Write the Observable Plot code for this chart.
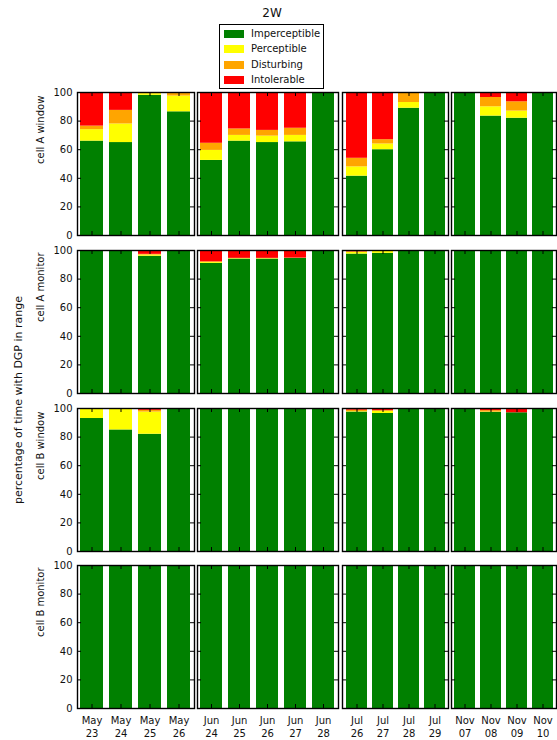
<!DOCTYPE html>
<html>
<head>
<meta charset="utf-8">
<script src="https://cdn.jsdelivr.net/npm/d3@7"></script>
<script src="https://cdn.jsdelivr.net/npm/@observablehq/plot@0.6"></script>
<style>
  body { margin: 0; background: #fff; font-family: "DejaVu Sans", sans-serif; color: #111; }
  #fig { position: relative; width: 557px; height: 740px; overflow: hidden; background: #fff; }
  .abs { position: absolute; }
  #title { left: 222px; width: 100px; top: 6px; text-align: center; font-size: 12px; }
  #legend { left: 219px; top: 24px; width: 103px; height: 63px; border: 1.3px solid #000; background: #fff; }
  .sw { position: absolute; left: 4px; width: 20px; height: 8px; }
  .lt { position: absolute; left: 31px; font-size: 10px; line-height: 12px; white-space: nowrap; }
  #ylab { left: 18px; top: 400px; transform: translate(-50%, -50%) rotate(-90deg); font-size: 11px; white-space: nowrap; }
</style>
</head>
<body>
<div id="fig"></div>
<script>
// ---------- data ----------
const categories = ["Imperceptible", "Perceptible", "Disturbing", "Intolerable"];
const colors = ["#008000", "#ffff00", "#ffa500", "#ff0000"];
const title = "2W";
const yLabel = "percentage of time with DGP in range";
const rowLabels = ["cell A window", "cell A monitor", "cell B window", "cell B monitor"];
const mayDays = ["May 23", "May 24", "May 25", "May 26"];
const junDays = ["Jun 24", "Jun 25", "Jun 26", "Jun 27", "Jun 28"];
const julDays = ["Jul 26", "Jul 27", "Jul 28", "Jul 29"];
const novDays = ["Nov 07", "Nov 08", "Nov 09", "Nov 10"];
const yTicks = [0, 20, 40, 60, 80, 100];

// values per day: [Imperceptible, Perceptible, Disturbing, Intolerable]
const cellAWindow = [
  [66, 8, 2.5, 23.5], [65, 13, 9.5, 12.5], [98, 1.2, 0.8, 0], [86.5, 11, 2.5, 0],
  [52.5, 7, 5, 35.5], [66, 4, 4.5, 25.5], [65, 4.5, 4, 26.5], [65.5, 4.5, 5, 25], [100, 0, 0, 0],
  [41.5, 6.5, 6, 46], [60, 4, 3, 33], [89, 4, 7, 0], [100, 0, 0, 0],
  [100, 0, 0, 0], [83.5, 6.5, 6.5, 3.5], [82, 5, 6.5, 6.5], [100, 0, 0, 0]
];
const cellAMonitor = [
  [100, 0, 0, 0], [100, 0, 0, 0], [96, 0.8, 0.5, 2.7], [100, 0, 0, 0],
  [91, 1, 0, 8], [94, 0.3, 0.2, 5.5], [94, 0.3, 0.2, 5.5], [94.5, 0, 0.2, 5.3], [100, 0, 0, 0],
  [97.5, 1.5, 0, 1], [98, 2, 0, 0], [100, 0, 0, 0], [100, 0, 0, 0],
  [100, 0, 0, 0], [100, 0, 0, 0], [100, 0, 0, 0], [100, 0, 0, 0]
];
const cellBWindow = [
  [93, 7, 0, 0], [85, 15, 0, 0], [82, 15.5, 1.2, 1.3], [100, 0, 0, 0],
  [100, 0, 0, 0], [100, 0, 0, 0], [100, 0, 0, 0], [100, 0, 0, 0], [100, 0, 0, 0],
  [97.5, 0.3, 1, 1.2], [96.5, 1.5, 0.5, 1.5], [100, 0, 0, 0], [100, 0, 0, 0],
  [100, 0, 0, 0], [97.3, 0.2, 1, 1.5], [97, 0, 0, 3], [100, 0, 0, 0]
];
const cellBMonitor = [
  [100, 0, 0, 0], [100, 0, 0, 0], [100, 0, 0, 0], [100, 0, 0, 0],
  [99.3, 0, 0, 0.7], [99.6, 0.2, 0.2, 0], [99.6, 0.2, 0.2, 0], [99.6, 0.2, 0.2, 0], [100, 0, 0, 0],
  [100, 0, 0, 0], [100, 0, 0, 0], [100, 0, 0, 0], [100, 0, 0, 0],
  [100, 0, 0, 0], [100, 0, 0, 0], [100, 0, 0, 0], [100, 0, 0, 0]
];

// ---------- layout ----------
const groups = [mayDays, junDays, julDays, novDays];
const rowValues = [cellAWindow, cellAMonitor, cellBWindow, cellBMonitor];
const colLeft = [77, 197, 342, 451];
const colWidth = [117, 141, 106, 105];
const rowTop = [92, 250, 408, 565];
const rowHeight = 143;
const tickLen = 4;

const fig = document.getElementById("fig");

function panel(r, c) {
  const dates = groups[c];
  const offset = groups.slice(0, c).reduce((s, g) => s + g.length, 0);
  const rows = [];
  dates.forEach((d, i) => {
    const v = rowValues[r][offset + i];
    categories.forEach((cat, k) => rows.push({date: d, cat, value: v[k]}));
  });
  const w = colWidth[c], h = rowHeight;
  const mL = c === 0 ? colLeft[0] : 1;
  const mB = r === 3 ? 34 : 1;
  const marks = [
    Plot.barY(rows, {x: "date", y: "value", fill: "cat"}),
    Plot.tickY(yTicks, {y: d => d, insetRight: w - tickLen, stroke: "#000", strokeWidth: 1}),
    Plot.tickY(yTicks, {y: d => d, insetLeft: w - tickLen, stroke: "#000", strokeWidth: 1}),
    Plot.tickX(dates, {x: d => d, insetBottom: h - tickLen, stroke: "#000", strokeWidth: 1}),
    Plot.tickX(dates, {x: d => d, insetTop: h - tickLen, stroke: "#000", strokeWidth: 1}),
    Plot.frame({stroke: "#000", strokeWidth: 1.4})
  ];
  if (c === 0) {
    marks.push(Plot.text(yTicks, {y: d => d, text: d => String(d), frameAnchor: "left", textAnchor: "end", dx: -5, fontSize: 10, fill: "#111"}));
    marks.push(Plot.text([rowLabels[r]], {text: d => d, frameAnchor: "left", rotate: -90, dx: -37, fontSize: 10, fill: "#111"}));
  }
  if (r === 3) {
    marks.push(Plot.text(dates, {x: d => d, text: d => d.replace(" ", "\n"), frameAnchor: "bottom", lineAnchor: "top", dy: 6, fontSize: 10, lineHeight: 1.3, fill: "#111"}));
  }
  const chart = Plot.plot({
    width: mL + w + 1,
    height: 1 + h + mB,
    marginLeft: mL, marginRight: 1, marginTop: 1, marginBottom: mB,
    x: {domain: dates, axis: null, paddingInner: 0.2, paddingOuter: 0.1},
    y: {domain: [0, 100], axis: null},
    color: {domain: categories, range: colors},
    style: {fontFamily: "DejaVu Sans, sans-serif", fontSize: "10px", background: "transparent", overflow: "visible"},
    marks
  });
  chart.classList.add("abs");
  chart.style.left = (colLeft[c] - mL) + "px";
  chart.style.top = (rowTop[r] - 1) + "px";
  fig.appendChild(chart);
}

for (let r = 0; r < 4; r++) for (let c = 0; c < 4; c++) panel(r, c);

// title
const t = document.createElement("div");
t.id = "title"; t.className = "abs"; t.textContent = title;
fig.appendChild(t);

// legend
const lg = document.createElement("div");
lg.id = "legend"; lg.className = "abs";
categories.forEach((cat, i) => {
  const sw = document.createElement("div");
  sw.className = "sw"; sw.style.background = colors[i]; sw.style.top = (5 + i * 15.3) + "px";
  const tx = document.createElement("div");
  tx.className = "lt"; tx.textContent = cat; tx.style.top = (3 + i * 15.3) + "px";
  lg.appendChild(sw); lg.appendChild(tx);
});
fig.appendChild(lg);

// global y label
const yl = document.createElement("div");
yl.id = "ylab"; yl.className = "abs"; yl.textContent = yLabel;
fig.appendChild(yl);
</script>
</body>
</html>
